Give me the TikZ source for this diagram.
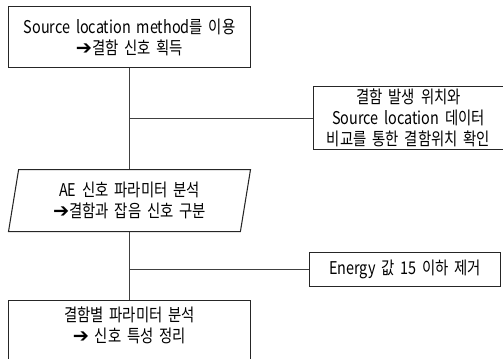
\documentclass[tikz,border=0pt]{standalone}
\usepackage{fontspec}
\setmainfont[FakeStretch=0.82, WordSpace=1.8]{Noto Sans CJK KR}
\newfontfamily\arrowfont{DejaVu Sans}
\newcommand{\goarrow}{{\arrowfont\fontsize{11}{12}\selectfont\char"2794}}
\usetikzlibrary{positioning, calc, shapes.geometric}
\definecolor{linegray}{HTML}{404040}
\definecolor{edgeblack}{HTML}{262626}
\tikzset{
    box/.style={rectangle, draw=edgeblack, fill=white, line width=0.6pt, align=center, font=\fontsize{10}{12}\selectfont, inner sep=1pt},
    slantbox/.style={box, trapezium, trapezium left angle=76, trapezium right angle=104, trapezium stretches body},
    link/.style={draw=linegray, line width=0.6pt}
}

\begin{document}
\begin{tikzpicture}[node distance=1cm]
    \node[box, minimum width=4.84cm, minimum height=1.22cm] (src) {Source location method를 이용\\\goarrow{}결함 신호 획득};
    \useasboundingbox ($(src.north west)+(-0.16,0.12)$) rectangle ++(10.06,-7.18);

    \node[slantbox, below=2.02cm of src, minimum width=4.84cm, minimum height=1.24cm] (param) {AE 신호 파라미터 분석\\\goarrow{}결함과 잡음 신호 구분};
    \node[box, below=1.36cm of param, minimum width=4.84cm, minimum height=1.4cm, text depth=13pt] (defect) {결함별 파라미터 분석\\\goarrow{} 신호 특성 정리};
    \node[box, below right=0.36cm and 1.24cm of src, minimum width=3.8cm, minimum height=1.26cm] (compare) {결함 발생 위치와\\Source location 데이터\\비교를 통한 결함위치 확인};
    \node[box, below=2.04cm of compare.south west, anchor=north west, xshift=-0.08cm, minimum width=3.82cm, minimum height=0.68cm] (energy) {Energy 값 15 이하 제거};

    \draw[link] (src.south) -- (src.south |- param.north);
    \draw[link] (src.south |- param.south) -- (src.south |- defect.north);
    \draw[link] (compare.west) -- (compare.west -| src.south);
    \draw[link] (energy.west) -- (energy.west -| src.south);
\end{tikzpicture}
\end{document}
